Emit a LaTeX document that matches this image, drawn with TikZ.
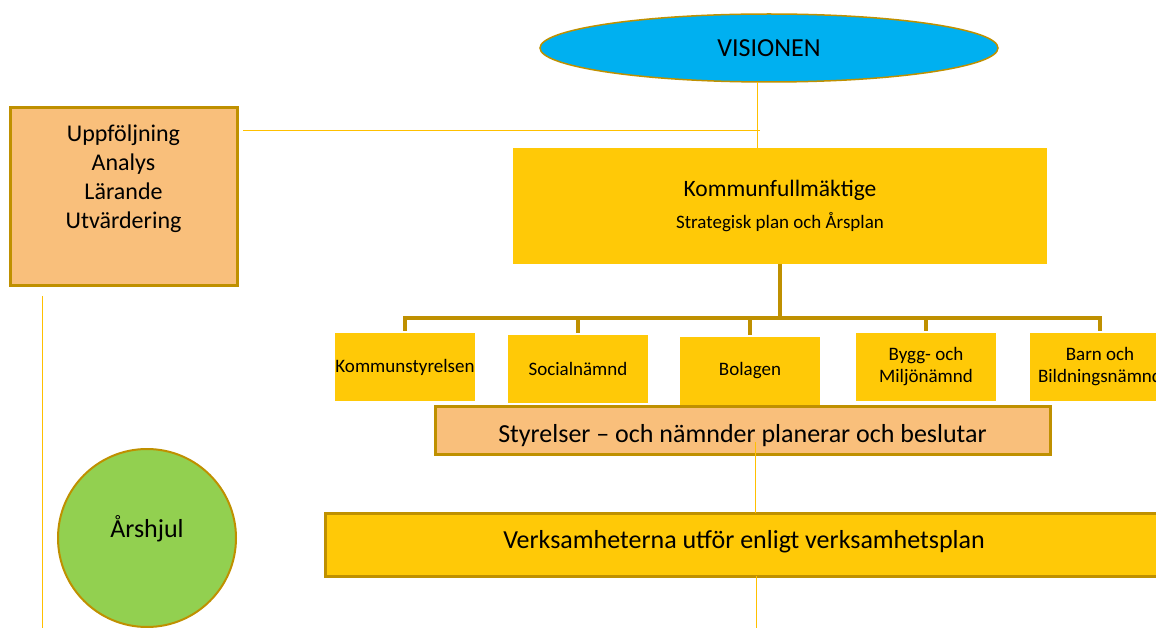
\documentclass[tikz,border=0pt]{standalone}
\usepackage{fontspec}
\setmainfont{Carlito}
\usetikzlibrary{shapes.geometric}
\definecolor{goldline}{HTML}{BF9000}
\definecolor{thinline}{HTML}{FFC000}
\definecolor{orangefill}{HTML}{F9BF7B}
\definecolor{yellowfill}{HTML}{FFC907}
\definecolor{greenfill}{HTML}{92D050}
\definecolor{bluefill}{HTML}{00B0F0}
\tikzset{
  every node/.style={inner sep=0pt, outer sep=0pt, text=black},
  thick box/.style={draw=goldline, line width=3pt, rectangle},
  orgbox/.style={fill=yellowfill, rectangle, minimum width=140pt, minimum height=68pt, align=center, font=\fontsize{19}{22}\selectfont},
  thinconn/.style={draw=thinline, line width=1pt},
  treeconn/.style={draw=goldline, line width=4pt},
}
\begin{document}
\begin{tikzpicture}[x=1pt,y=-1pt]
\useasboundingbox (0,0) rectangle (1156,628);
\clip (0,0) rectangle (1156,628);
% nodes
\node[ellipse, draw=goldline, line width=1.5pt, fill=bluefill, minimum width=458pt, minimum height=68pt, font=\fontsize{26}{30}\selectfont] (vis) at (769,48) {VISIONEN};
\node[thick box, fill=orangefill, minimum width=227pt, minimum height=178pt] (upp) at (123.5,197) {};
\node[align=center, font=\fontsize{24}{29}\selectfont] (upptext) at (123.5,179) {Uppföljning\\Analys\\Lärande\\Utvärdering};
\node[rectangle, fill=yellowfill, minimum width=534pt, minimum height=116pt, align=center] (kf) at (780,206)
  {{\fontsize{23.5}{27}\selectfont Kommunfullmäktige}\\[10pt]{\fontsize{19}{22}\selectfont Strategisk plan och Årsplan}};
\node[orgbox] (ks) at (405,367) {Kommunstyrelsen};
\node[orgbox] (sn) at (578,369) {Socialnämnd};
\node[orgbox] (bo) at (750,371) {Bolagen};
\node[orgbox] (bm) at (926,367) {Bygg- och\\Miljönämnd};
\node[orgbox] (bb) at (1100,367) {Barn och\\Bildningsnämnd};
\node[thick box, fill=orangefill, minimum width=615pt, minimum height=48pt] (sty) at (742.5,430) {};
\node[font=\fontsize{26}{30}\selectfont] (stytext) at (742.5,436) {Styrelser – och nämnder planerar och beslutar};
\node[thick box, fill=yellowfill, minimum width=835pt, minimum height=63pt] (verk) at (742.5,544.5) {};
\node[font=\fontsize{26}{30}\selectfont] (verktext) at (744,541.5) {Verksamheterna utför enligt verksamhetsplan};
\node[circle, draw=goldline, line width=2pt, fill=greenfill, minimum size=178pt] (hjul) at (147,538) {};
\node[font=\fontsize{26}{30}\selectfont] (hjultext) at (147,529) {Årshjul};
% coordinates
\coordinate (vj) at (757,131);
\coordinate (bus) at (780,318);
\coordinate (lv) at (42,628);
\coordinate (sv) at (755,442);
\coordinate (vb) at (756,628);
% connectors
\draw[thinconn] (vis.south -| vj) -- (kf.north -| vj);
\draw[thinconn] ([xshift=6pt]upp.east |- vj) -- ([xshift=3pt]vj);
\draw[thinconn] ([yshift=-10pt]upp.south -| lv) -- (lv);
\draw[treeconn] (kf.south) -- (bus);
\draw[treeconn, shorten >=2pt] (bus) -| (ks.north);
\draw[treeconn, shorten >=2pt] (bus) -| (sn.north);
\draw[treeconn, shorten >=2pt] (bus) -| (bo.north);
\draw[treeconn, shorten >=2pt] (bus) -| (bm.north);
\draw[treeconn, shorten >=2pt] (bus) -| (bb.north);
\draw[thinconn] (sv) -- (verk.north -| sv);
\draw[thinconn] (verk.south -| vb) -- (vb);
\end{tikzpicture}
\end{document}
